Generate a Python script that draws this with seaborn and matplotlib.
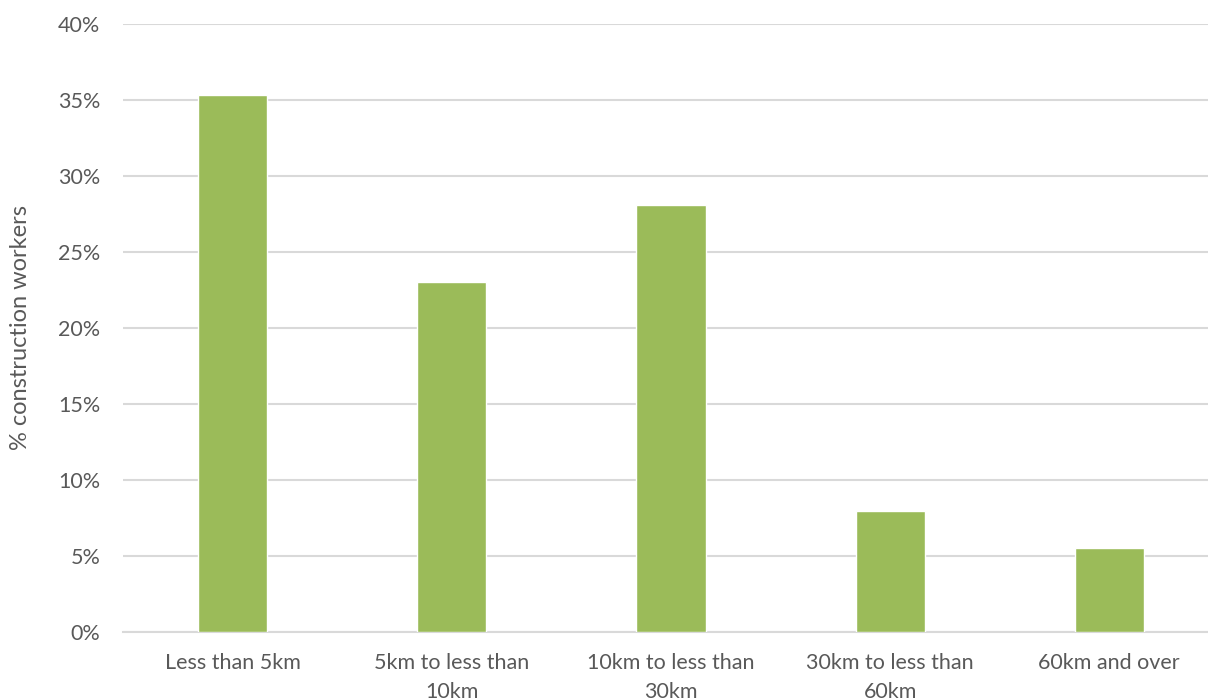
import matplotlib
matplotlib.use("Agg")
import matplotlib.pyplot as plt
import seaborn as sns
import pandas as pd
from matplotlib.ticker import PercentFormatter, MultipleLocator

categories = ["Less than 5km", "5km to less than\n10km", "10km to less than\n30km",
              "30km to less than\n60km", "60km and over"]
values = [35.3, 23.0, 28.1, 7.96, 5.55]

sns.set_theme(style="white")
plt.rcParams['font.family'] = ['Lato', 'DejaVu Sans']

df = pd.DataFrame({"cat": categories, "val": values})

fig = plt.figure(figsize=(12.08, 7.0), dpi=100)
ax = fig.add_axes([123.3/1208, 68/700, (1218.7-123.3)/1208, 608/700])
sns.barplot(data=df, x="cat", y="val", color="#9BBB59", width=0.315,
            saturation=1, ax=ax, zorder=3)
ax.set_xlim(-0.5, 4.5)
ax.set_ylim(0, 40)
ax.yaxis.set_major_locator(MultipleLocator(5))
ax.yaxis.set_major_formatter(PercentFormatter(decimals=0))
ax.grid(axis="y", color="#d9d9d9", linewidth=1.5, zorder=0)
for s in ["top", "right", "left"]:
    ax.spines[s].set_visible(False)
ax.spines["bottom"].set_color("#d9d9d9")
ax.spines["bottom"].set_linewidth(1.5)
ax.tick_params(axis="both", length=0, colors="#595959", labelsize=15.5)
ax.tick_params(axis="x", pad=15)
ax.tick_params(axis="y", pad=16.5)
for lab in ax.get_xticklabels():
    lab.set_linespacing(1.55)
ax.set_xlabel("")
ax.set_ylabel("% construction workers", color="#595959", fontsize=17)
ax.yaxis.set_label_coords(-0.084, 0.5)
fig.savefig("out.png", dpi=100)
